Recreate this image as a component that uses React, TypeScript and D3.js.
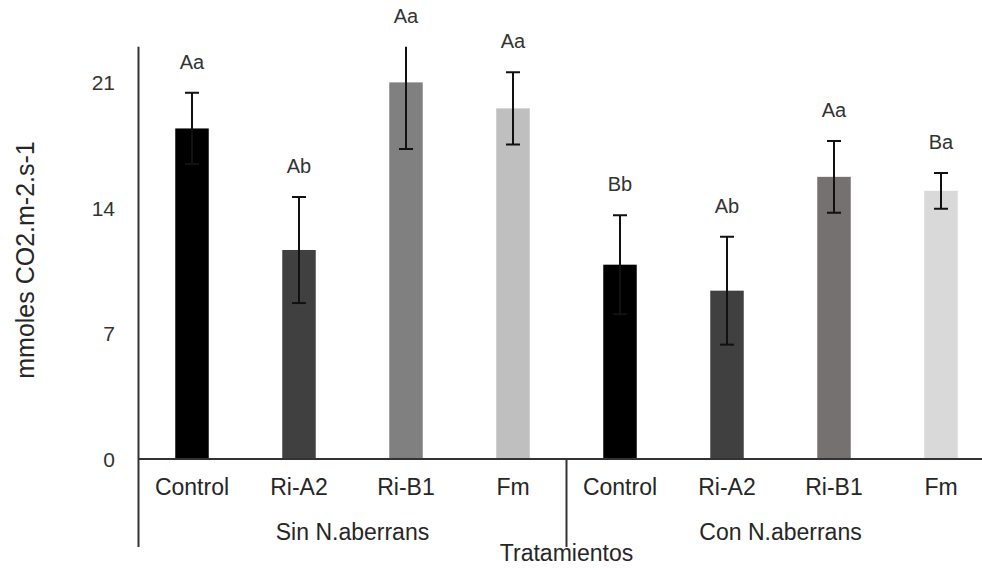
import React, { useEffect, useRef } from "react";
import * as d3 from "d3";

// data
const groups = ["Sin N.aberrans", "Con N.aberrans"];
const treatments = ["Control", "Ri-A2", "Ri-B1", "Fm"];
const sinValues = [18.44, 11.66, 21.01, 19.56];
const sinErrors = [1.99, 2.96, 3.72, 2.02];
const sinLetters = ["Aa", "Ab", "Aa", "Aa"];
const conValues = [10.84, 9.39, 15.74, 14.96];
const conErrors = [2.76, 3.01, 2.0, 1.0];
const conLetters = ["Bb", "Ab", "Aa", "Ba"];
const yTicks = [0, 7, 14, 21];
const yMax = 23;

const barColors = [
  ["#000000", "#404040", "#808080", "#bfbfbf"],
  ["#000000", "#404040", "#767171", "#d9d9d9"],
];

const FONT = "'Liberation Sans', Arial, sans-serif";

const App = () => {
  const chart = useRef<SVGSVGElement>(null);

  useEffect(() => {
    const width = 982;
    const height = 573;
    const left = 138.5;
    const right = 994.5;
    const top = 46.7;
    const bottom = 459;

    const rows = [
      { values: sinValues, errors: sinErrors, letters: sinLetters },
      { values: conValues, errors: conErrors, letters: conLetters },
    ];
    const data = rows.flatMap((r, g) =>
      treatments.map((t, i) => ({
        g,
        i,
        label: t,
        value: r.values[i],
        err: r.errors[i],
        letter: r.letters[i],
        color: barColors[g][i],
      }))
    );

    const svg = d3.select(chart.current);
    svg.selectAll("*").remove();
    svg.attr("width", width).attr("height", height);

    const x = d3
      .scaleBand<number>()
      .domain(d3.range(data.length))
      .range([left, right])
      .paddingInner(0.687)
      .paddingOuter(0.3435);
    const y = d3.scaleLinear().domain([0, yMax]).range([bottom, top]);
    const step = x.step();
    const bw = x.bandwidth();

    svg
      .append("defs")
      .append("clipPath")
      .attr("id", "plot")
      .append("rect")
      .attr("x", left)
      .attr("y", top)
      .attr("width", right - left)
      .attr("height", bottom - top);

    // bars
    svg
      .selectAll(".bar")
      .data(data)
      .join("rect")
      .attr("x", (d, k) => x(k)!)
      .attr("y", (d) => y(d.value))
      .attr("width", bw)
      .attr("height", (d) => bottom - y(d.value))
      .attr("fill", (d) => d.color);

    // error bars (clipped at the top of the plot area)
    const eb = svg.append("g").attr("clip-path", "url(#plot)").attr("stroke", "#111").attr("stroke-width", 2);
    data.forEach((d, k) => {
      const cx = x(k)! + bw / 2;
      const lo = d.value - d.err;
      const hi = d.value + d.err;
      eb.append("line").attr("x1", cx).attr("x2", cx).attr("y1", y(lo)).attr("y2", y(hi));
      eb.append("line").attr("x1", cx - 7).attr("x2", cx + 7).attr("y1", y(lo)).attr("y2", y(lo));
      if (hi <= yMax) {
        eb.append("line").attr("x1", cx - 7).attr("x2", cx + 7).attr("y1", y(hi)).attr("y2", y(hi));
      }
    });

    // significance letters
    svg
      .selectAll(".letter")
      .data(data)
      .join("text")
      .attr("x", (d, k) => x(k)! + bw / 2)
      .attr("y", (d) => y(Math.min(d.value + d.err, yMax)) - 31)
      .attr("text-anchor", "middle")
      .attr("dominant-baseline", "central")
      .attr("font-family", FONT)
      .attr("font-size", 20)
      .attr("fill", "#333")
      .text((d) => d.letter);

    // axes lines
    const ax = svg.append("g").attr("stroke", "#333").attr("stroke-width", 2);
    ax.append("line").attr("x1", left).attr("x2", left).attr("y1", top).attr("y2", 547);
    ax.append("line").attr("x1", left).attr("x2", width).attr("y1", bottom).attr("y2", bottom);
    const sep = left + step * treatments.length;
    ax.append("line").attr("x1", sep).attr("x2", sep).attr("y1", bottom).attr("y2", 547);

    // y tick labels
    svg
      .selectAll(".ytick")
      .data(yTicks)
      .join("text")
      .attr("x", 115)
      .attr("y", (d) => y(d))
      .attr("text-anchor", "end")
      .attr("dominant-baseline", "central")
      .attr("font-family", FONT)
      .attr("font-size", 21)
      .attr("fill", "#333")
      .text((d) => d);

    // category labels
    svg
      .selectAll(".cat")
      .data(data)
      .join("text")
      .attr("x", (d, k) => x(k)! + bw / 2)
      .attr("y", 495)
      .attr("text-anchor", "middle")
      .attr("font-family", FONT)
      .attr("font-size", 23)
      .attr("fill", "#262626")
      .text((d) => d.label);

    // group labels
    svg
      .selectAll(".grp")
      .data(groups)
      .join("text")
      .attr("x", (d, g) => left + step * treatments.length * (g + 0.5))
      .attr("y", 540)
      .attr("text-anchor", "middle")
      .attr("font-family", FONT)
      .attr("font-size", 23)
      .attr("fill", "#262626")
      .text((d) => d);

    svg
      .append("text")
      .attr("x", (left + right) / 2)
      .attr("y", 561)
      .attr("text-anchor", "middle")
      .attr("font-family", FONT)
      .attr("font-size", 23)
      .attr("fill", "#262626")
      .text("Tratamientos");

    svg
      .append("text")
      .attr("transform", "translate(25, 260) rotate(-90)")
      .attr("text-anchor", "middle")
      .attr("dominant-baseline", "central")
      .attr("font-family", FONT)
      .attr("font-size", 25)
      .attr("fill", "#262626")
      .text("mmoles CO2.m-2.s-1");
  }, []);

  return (
    <svg
      ref={chart}
      style={{ position: "absolute", left: 0, top: 0, background: "#fff" }}
    ></svg>
  );
};

export default App;
